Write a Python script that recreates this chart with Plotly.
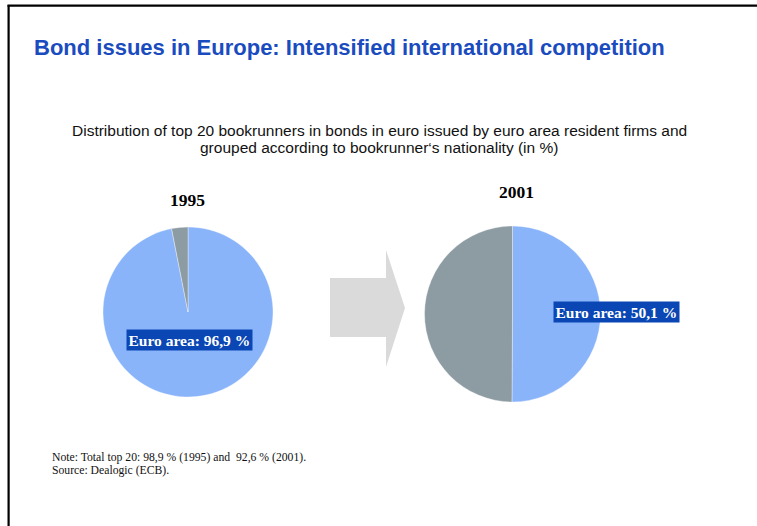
import plotly.graph_objects as go

W, H = 757, 526

# Shares of top-20 bookrunners by nationality (in %)
years = ["1995", "2001"]
segments = ["Euro area", "Other"]
euro_share = [96.9, 50.1]
other_share = [round(100 - v, 1) for v in euro_share]

colors = ["#8AB4FA", "#8D9CA2"]
label_bg = "#0A47B4"


def px_x(v):
    return v / W


def px_y(v):
    return 1 - v / H


# pie placement in pixels: (centre x, centre y, radius)
pie_geom = [(188, 312, 85), (512.5, 314, 88)]

fig = go.Figure()
for i, yr in enumerate(years):
    cx, cy, r = pie_geom[i]
    fig.add_trace(go.Pie(
        labels=segments,
        values=[euro_share[i], other_share[i]],
        sort=False,
        direction="clockwise",
        rotation=0,
        textinfo="none",
        hoverinfo="label+percent",
        marker=dict(colors=colors, line=dict(color="rgba(255,255,255,0.6)", width=0.6)),
        domain=dict(x=[px_x(cx - r), px_x(cx + r)], y=[px_y(cy + r), px_y(cy - r)]),
        showlegend=False,
        name=yr,
    ))

sans = "Liberation Sans, Arial"
serif = "Liberation Serif, Times New Roman"

annotations = [
    dict(text="<b>Bond issues in Europe: Intensified international competition</b>",
         x=px_x(32), y=px_y(47), xanchor="left", yanchor="middle",
         font=dict(family=sans, size=22, color="#1A4CC0")),
    dict(text="Distribution of top 20 bookrunners in bonds in euro issued by euro area resident firms and",
         x=px_x(379), y=px_y(130), xanchor="center", yanchor="middle",
         font=dict(family=sans, size=15.5, color="#111111")),
    dict(text="grouped according to bookrunner\u2018s nationality (in %)",
         x=px_x(379), y=px_y(148), xanchor="center", yanchor="middle",
         font=dict(family=sans, size=15.5, color="#111111")),
    dict(text="<b>1995</b>", x=px_x(187), y=px_y(200), xanchor="center", yanchor="middle",
         font=dict(family=serif, size=17.5, color="#000000")),
    dict(text="<b>2001</b>", x=px_x(516), y=px_y(192), xanchor="center", yanchor="middle",
         font=dict(family=serif, size=17.5, color="#000000")),
    dict(text="Note: Total top 20: 98,9 % (1995) and  92,6 % (2001).",
         x=px_x(50), y=px_y(457), xanchor="left", yanchor="middle",
         font=dict(family=serif, size=11.7, color="#111111")),
    dict(text="Source: Dealogic (ECB).",
         x=px_x(50), y=px_y(470), xanchor="left", yanchor="middle",
         font=dict(family=serif, size=11.7, color="#111111")),
]

# value labels on the euro-area slices
label_pos = [(189.5, 339.5), (616.5, 312)]
for i, v in enumerate(euro_share):
    lx, ly = label_pos[i]
    annotations.append(dict(
        text="<b>Euro area: %s %%</b>" % ("%.1f" % v).replace(".", ","),
        x=px_x(lx), y=px_y(ly), xanchor="center", yanchor="middle",
        font=dict(family=serif, size=15.5, color="white"),
        bgcolor=label_bg, borderpad=1.5, showarrow=False,
    ))

for a in annotations:
    a.setdefault("showarrow", False)
    a["xref"] = "paper"
    a["yref"] = "paper"

# block arrow between the two pies
arrow_pts = [(330, 278), (386, 278), (386, 250), (405, 308), (386, 367), (386, 337), (330, 337)]
arrow_path = "M " + " L ".join("%f,%f" % (px_x(x), px_y(y)) for x, y in arrow_pts) + " Z"

shapes = [
    dict(type="path", path=arrow_path, xref="paper", yref="paper",
         fillcolor="#DADADA", line=dict(width=0)),
    dict(type="line", xref="paper", yref="paper", x0=px_x(8.6), x1=px_x(8.6), y0=px_y(5), y1=px_y(530),
         line=dict(color="black", width=2.2)),
    dict(type="line", xref="paper", yref="paper", x0=px_x(7.5), x1=px_x(760), y0=px_y(5.7), y1=px_y(5.7),
         line=dict(color="black", width=2.2)),
]

fig.update_layout(
    width=W, height=H,
    margin=dict(l=0, r=0, t=0, b=0),
    paper_bgcolor="white", plot_bgcolor="white",
    annotations=annotations, shapes=shapes,
)

fig.write_html("out.html")
